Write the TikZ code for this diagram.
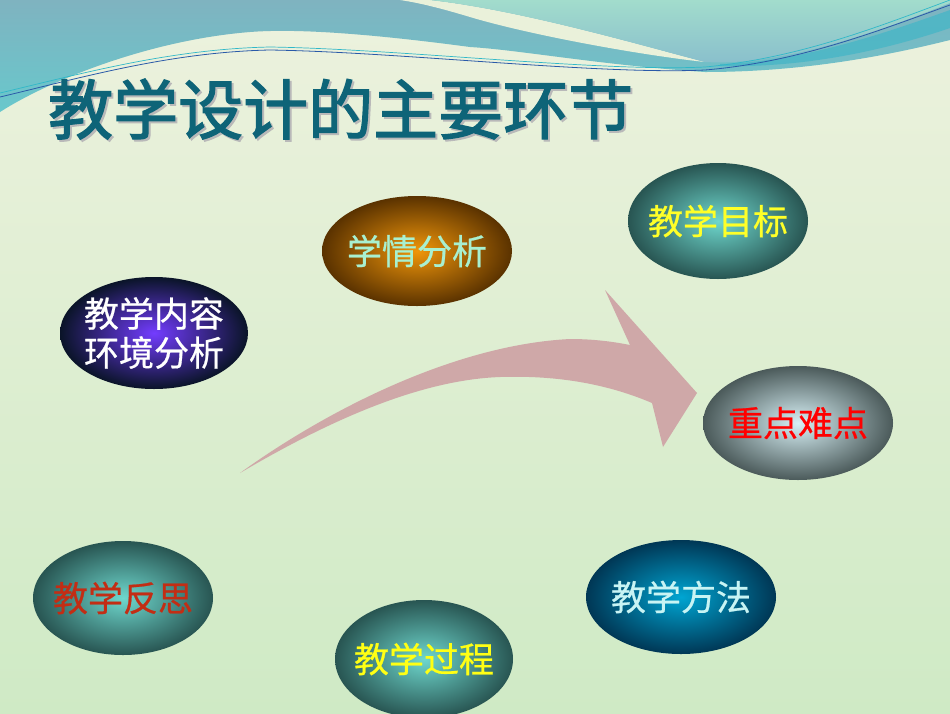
\documentclass[tikz,border=0pt]{standalone}
\usepackage{fontspec}
\setmainfont{Liberation Sans}
\newfontfamily\cjk[FakeBold=0.6]{Noto Sans CJK SC}
\newfontfamily\cjkt[FakeBold=2]{Noto Sans CJK SC}
\usetikzlibrary{shapes.geometric}
\definecolor{bgtop}{HTML}{EDF2DE}
\definecolor{bgbot}{HTML}{CFEAC5}
\definecolor{tealA}{HTML}{7FB3C0}
\definecolor{tealAb}{HTML}{68C8CC}
\definecolor{tealB}{HTML}{A2DCCC}
\definecolor{tealBb}{HTML}{88BECC}
\definecolor{cream}{HTML}{EAF1DA}
\definecolor{lineblue}{HTML}{2A5AA8}
\definecolor{linecyan}{HTML}{30B8C8}
\definecolor{titlecol}{HTML}{0E6478}
\definecolor{pinkarrow}{HTML}{CFA8A8}
\tikzset{
  ball/.style={ellipse, inner sep=0pt, draw=none},
  lbl/.style={font=\cjk\fontsize{35}{39}\selectfont, inner sep=0pt, align=center},
  ttl/.style={anchor=base west, inner sep=0pt, font=\cjkt\fontsize{65}{70}\selectfont},
}
\begin{document}
\begin{tikzpicture}[x=1pt,y=-1pt]
\useasboundingbox (0,0) rectangle (950,713);
% background
\shade[top color=bgtop, bottom color=bgbot] (0,0) rectangle (950,713);
% top waves
\shade[top color=tealA, bottom color=tealAb]
  (0,0) -- (950,0) -- (950,40) .. controls (870,60) and (790,72) .. (705,72)
  .. controls (600,65) and (520,50) .. (470,47)
  .. controls (380,35) and (300,28) .. (250,32)
  .. controls (150,40) and (50,80) .. (0,112) -- cycle;
\fill[cream] (400,0) -- (430,0) .. controls (520,10) and (640,45) .. (705,62)
  .. controls (640,55) and (530,35) .. (470,17)
  .. controls (440,8) and (420,3) .. (400,0) -- cycle;
\shade[top color=tealB, bottom color=tealBb]
  (430,0) .. controls (520,10) and (640,45) .. (705,62)
  .. controls (780,66) and (870,35) .. (950,3) -- (950,0) -- cycle;
\fill[color=linecyan!70!tealA, opacity=0.8] (720,64) .. controls (800,62) and (880,35) .. (950,10)
  -- (950,28) .. controls (880,52) and (800,68) .. (720,66) -- cycle;
\draw[linecyan, line width=0.7pt] (0,93) .. controls (80,74) and (170,49) .. (270,47)
  .. controls (400,49) and (600,72) .. (705,67) .. controls (800,58) and (880,26) .. (950,0);
\draw[lineblue, line width=0.8pt] (0,97) .. controls (80,78) and (170,52) .. (270,50)
  .. controls (400,52) and (600,75) .. (705,70) .. controls (800,62) and (880,30) .. (950,5);
% title
\node[ttl, text=gray!55] (titleshadow) at (50,136) {教学设计的主要环节};
\node[ttl, text=titlecol] (title) at (48,134) {教学设计的主要环节};
% big arrow
\fill[pinkarrow] (240,473) .. controls (320,415) and (450,345) .. (570,339)
  .. controls (595,339) and (615,342) .. (630,345)
  -- (605,290) -- (697,393) -- (663,447) -- (652,403)
  .. controls (610,385) and (560,375) .. (500,377)
  .. controls (420,380) and (330,420) .. (240,473) -- cycle;
% ellipses
\node[ball, minimum width=190pt, minimum height=110pt, inner color={rgb,255:red,240;green,150;blue,10}, outer color={rgb,255:red,90;green,50;blue,0}] (xq) at (417,251) {};
\node[lbl, text={rgb,255:red,168;green,240;blue,208}] at (xq) {学情分析};

\node[ball, minimum width=180pt, minimum height=116pt, inner color={rgb,255:red,110;green,215;blue,205}, outer color={rgb,255:red,40;green,85;blue,82}] (mb) at (718,221) {};
\node[lbl, text={rgb,255:red,255;green,255;blue,40}] at (mb) {教学目标};

\node[ball, minimum width=188pt, minimum height=112pt, inner color={rgb,255:red,115;green,60;blue,255}, outer color={rgb,255:red,10;green,20;blue,40}] (nr) at (154,333) {};
\node[lbl, text=white] at (nr) {教学内容\\环境分析};

\node[ball, minimum width=190pt, minimum height=114pt, inner color={rgb,255:red,215;green,240;blue,245}, outer color={rgb,255:red,75;green,90;blue,90}] (zd) at (798,423) {};
\node[lbl, text=red] at (zd) {重点难点};

\node[ball, minimum width=180pt, minimum height=114pt, inner color={rgb,255:red,110;green,215;blue,205}, outer color={rgb,255:red,40;green,85;blue,82}] (fs) at (123,598) {};
\node[lbl, text={rgb,255:red,195;green,45;blue,20}] at (fs) {教学反思};

\node[ball, minimum width=178pt, minimum height=118pt, inner color={rgb,255:red,110;green,215;blue,205}, outer color={rgb,255:red,40;green,85;blue,82}] (gc) at (424,659) {};
\node[lbl, text={rgb,255:red,255;green,255;blue,20}] at (gc) {教学过程};

\node[ball, minimum width=190pt, minimum height=114pt, inner color={rgb,255:red,0;green,165;blue,210}, outer color={rgb,255:red,0;green,55;blue,85}] (ff) at (681,597) {};
\node[lbl, text={rgb,255:red,200;green,244;blue,244}] at (ff) {教学方法};
\end{tikzpicture}
\end{document}
